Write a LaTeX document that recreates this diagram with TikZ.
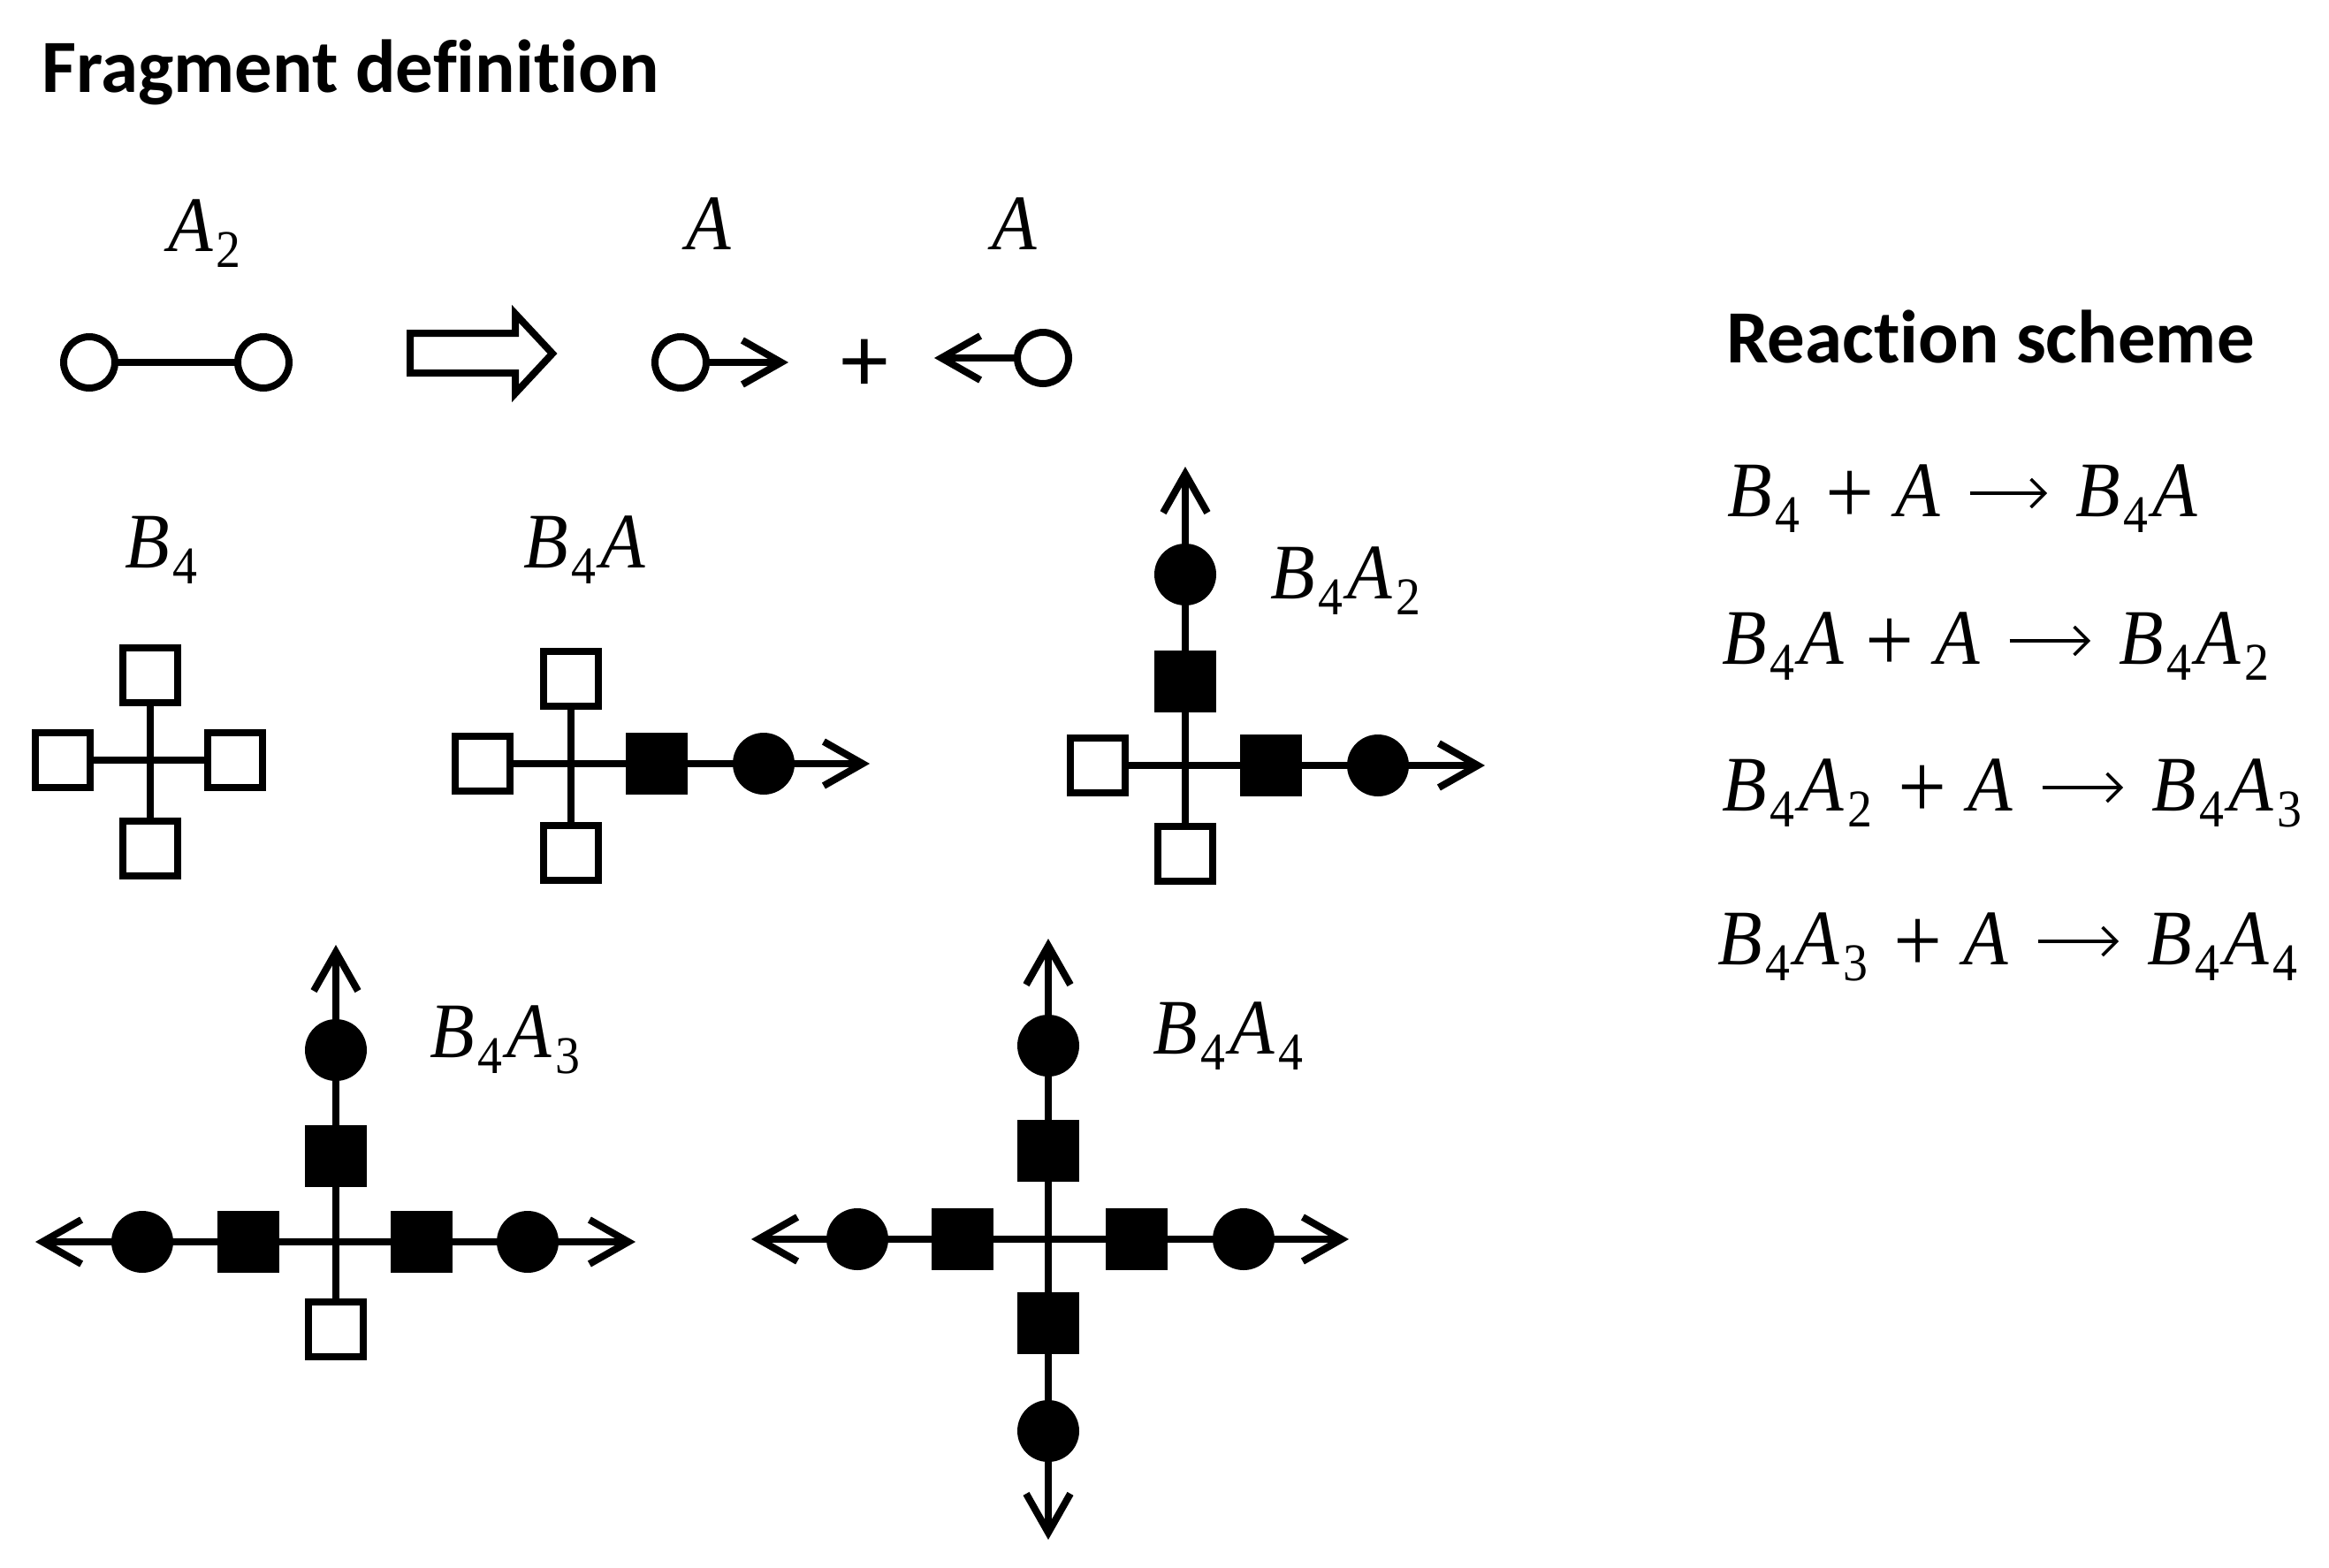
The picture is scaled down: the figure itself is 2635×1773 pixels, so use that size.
\documentclass[tikz,border=0pt]{standalone}
\usepackage{fontspec}
\setmainfont{Liberation Serif}[FakeStretch=0.93]
\newfontfamily\headfont{Carlito}[Ligatures=NoCommon,Contextuals=NoAlternate]
\usetikzlibrary{arrows.meta}
\newcommand{\fB}{\textit{B}}
\newcommand{\fA}{\textit{A}}
\newcommand{\lowd}[1]{\hspace{3.5pt}\raisebox{-18pt}{\fontsize{60}{62}\selectfont #1}\hspace{5.5pt}}
\newcommand{\gap}{\hspace{24pt}}
\newcommand{\pl}{\gap\raisebox{-8pt}{\fontsize{105}{105}\selectfont +}\gap}
\tikzset{
  wire/.style={line width=8pt},
  barb/.style={wire,-{Straight Barb[length=44pt,width=50pt,line width=8pt]}},
  thinarrow/.style={line width=3.5pt,-{Straight Barb[length=16pt,width=32pt,line width=3.5pt]}},
  sqo/.style={rectangle,draw=black,fill=white,line width=8pt,minimum size=62pt,inner sep=0pt},
  sqf/.style={rectangle,fill=black,minimum size=70pt,inner sep=0pt},
  co/.style={circle,draw=black,fill=white,line width=8pt,minimum size=58pt,inner sep=0pt},
  cf/.style={circle,fill=black,minimum size=70pt,inner sep=0pt},
  mlabel/.style={inner sep=0pt,anchor=base west,font=\fontsize{89}{100}\selectfont},
  heading/.style={inner sep=0pt,anchor=base west,font=\headfont\bfseries\fontsize{85}{90}\selectfont},
}
\begin{document}
\begin{tikzpicture}[x=1pt,y=-1pt]
\path[use as bounding box,fill=white] (0,0) rectangle (2635,1773);

% headings
\node[heading] (title1) at (47,104) {Fragment definition};
\node[heading] (title2) at (1953,410) {Reaction scheme};

% row 1
\node[mlabel] (lA2) at (190,284) {\fA\lowd{2}};
\node[mlabel] (lA1) at (776,282) {\fA};
\node[mlabel] (lA3) at (1122,282) {\fA};
\node[co] (a1) at (101,410) {};
\node[co] (a2) at (298,410) {};
\draw[wire] (a1) -- (a2);
\draw[line width=8pt,miter limit=10] (464,377) -- (583,377) -- (583,355) -- (625,400) -- (583,445) -- (583,422) -- (464,422) -- cycle;
\node[co] (a3) at (770,410) {};
\coordinate (a3t) at (892,410);
\draw[barb] (a3) -- (a3t);
\node[inner sep=0pt,font=\headfont\fontsize{108}{112}\selectfont] (plus) at (978,414) {+};
\node[co] (a4) at (1180,405) {};
\coordinate (a4t) at (1057,405);
\draw[barb] (a4) -- (a4t);

% B4
\node[mlabel] (lB4) at (141,642) {\fB\lowd{4}};
\coordinate (b0) at (170,860);
\node[sqo] (b1) at (170,764) {};
\node[sqo] (b2) at (71,860) {};
\node[sqo] (b3) at (266,860) {};
\node[sqo] (b4) at (170,960) {};
\draw[wire] (b0) -- (b1);
\draw[wire] (b0) -- (b4);
\draw[wire] (b2) -- (b3);

% B4A
\node[mlabel] (lB4A) at (592,642) {\fB\lowd{4}\fA};
\coordinate (c0) at (646,864);
\node[sqo] (c1) at (646,768) {};
\node[sqo] (c2) at (546,864) {};
\node[sqo] (c4) at (646,965) {};
\node[sqf] (c5) at (743,864) {};
\node[cf] (c6) at (864,864) {};
\coordinate (c7) at (984,864);
\draw[wire] (c1) -- (c4);
\draw[wire] (c2) -- (c5);
\draw[wire] (c5) -- (c6);
\draw[barb] (c6) -- (c7);

% B4A2
\node[mlabel] (lB4A2) at (1437,677) {\fB\lowd{4}\fA\lowd{2}};
\coordinate (d0) at (1341,866);
\coordinate (d8) at (1341,528);
\node[cf] (d7) at (1341,650) {};
\node[sqf] (d1) at (1341,771) {};
\node[sqo] (d2) at (1242,866) {};
\node[sqo] (d4) at (1341,966) {};
\node[sqf] (d5) at (1438,866) {};
\node[cf] (d6) at (1559,866) {};
\coordinate (d9) at (1680,866);
\draw[wire] (d4) -- (d1);
\draw[wire] (d1) -- (d7);
\draw[barb] (d7) -- (d8);
\draw[wire] (d2) -- (d5);
\draw[wire] (d5) -- (d6);
\draw[barb] (d6) -- (d9);

% B4A3
\node[mlabel] (lB4A3) at (486,1196) {\fB\lowd{4}\fA\lowd{3}};
\coordinate (e0) at (380,1405);
\coordinate (e8) at (380,1069);
\node[cf] (e7) at (380,1188) {};
\node[sqf] (e1) at (380,1308) {};
\node[sqf] (e2) at (281,1405) {};
\node[cf] (e3) at (161,1405) {};
\coordinate (e9) at (40,1405);
\node[sqf] (e5) at (477,1405) {};
\node[cf] (e6) at (597,1405) {};
\coordinate (e10) at (719,1405);
\node[sqo] (e4) at (380,1504) {};
\draw[wire] (e4) -- (e1);
\draw[wire] (e1) -- (e7);
\draw[barb] (e7) -- (e8);
\draw[wire] (e2) -- (e5);
\draw[wire] (e2) -- (e3);
\draw[barb] (e3) -- (e9);
\draw[wire] (e5) -- (e6);
\draw[barb] (e6) -- (e10);

% B4A4
\node[mlabel] (lB4A4) at (1304,1192) {\fB\lowd{4}\fA\lowd{4}};
\coordinate (f0) at (1186,1402);
\coordinate (f8) at (1186,1062);
\node[cf] (f7) at (1186,1183) {};
\node[sqf] (f1) at (1186,1302) {};
\node[sqf] (f4) at (1186,1497) {};
\node[cf] (f3) at (1186,1619) {};
\coordinate (f9) at (1186,1742);
\node[sqf] (f2) at (1089,1402) {};
\node[cf] (f10) at (970,1402) {};
\coordinate (f11) at (850,1402);
\node[sqf] (f5) at (1286,1402) {};
\node[cf] (f6) at (1407,1402) {};
\coordinate (f12) at (1526,1402);
\draw[wire] (f4) -- (f1);
\draw[wire] (f1) -- (f7);
\draw[barb] (f7) -- (f8);
\draw[wire] (f4) -- (f3);
\draw[barb] (f3) -- (f9);
\draw[wire] (f2) -- (f5);
\draw[wire] (f2) -- (f10);
\draw[barb] (f10) -- (f11);
\draw[wire] (f5) -- (f6);
\draw[barb] (f6) -- (f12);

% reaction scheme
\node[mlabel] (r1l) at (1954,584) {\fB\lowd{4}\pl\fA};
\node[mlabel] (r1r) at (2348,584) {\fB\lowd{4}\fA};
\draw[thinarrow] ([yshift=26pt,xshift=33pt]r1l.base east) -- ([yshift=26pt,xshift=-32pt]r1r.base west);
\node[mlabel] (r2l) at (1948,751) {\fB\lowd{4}\fA\pl\fA};
\node[mlabel] (r2r) at (2397,751) {\fB\lowd{4}\fA\lowd{2}};
\draw[thinarrow] ([yshift=26pt,xshift=33pt]r2l.base east) -- ([yshift=26pt,xshift=-32pt]r2r.base west);
\node[mlabel] (r3l) at (1948,917) {\fB\lowd{4}\fA\lowd{2}\pl\fA};
\node[mlabel] (r3r) at (2434,917) {\fB\lowd{4}\fA\lowd{3}};
\draw[thinarrow] ([yshift=26pt,xshift=33pt]r3l.base east) -- ([yshift=26pt,xshift=-32pt]r3r.base west);
\node[mlabel] (r4l) at (1943,1091) {\fB\lowd{4}\fA\lowd{3}\pl\fA};
\node[mlabel] (r4r) at (2429,1091) {\fB\lowd{4}\fA\lowd{4}};
\draw[thinarrow] ([yshift=26pt,xshift=33pt]r4l.base east) -- ([yshift=26pt,xshift=-32pt]r4r.base west);
\end{tikzpicture}
\end{document}
